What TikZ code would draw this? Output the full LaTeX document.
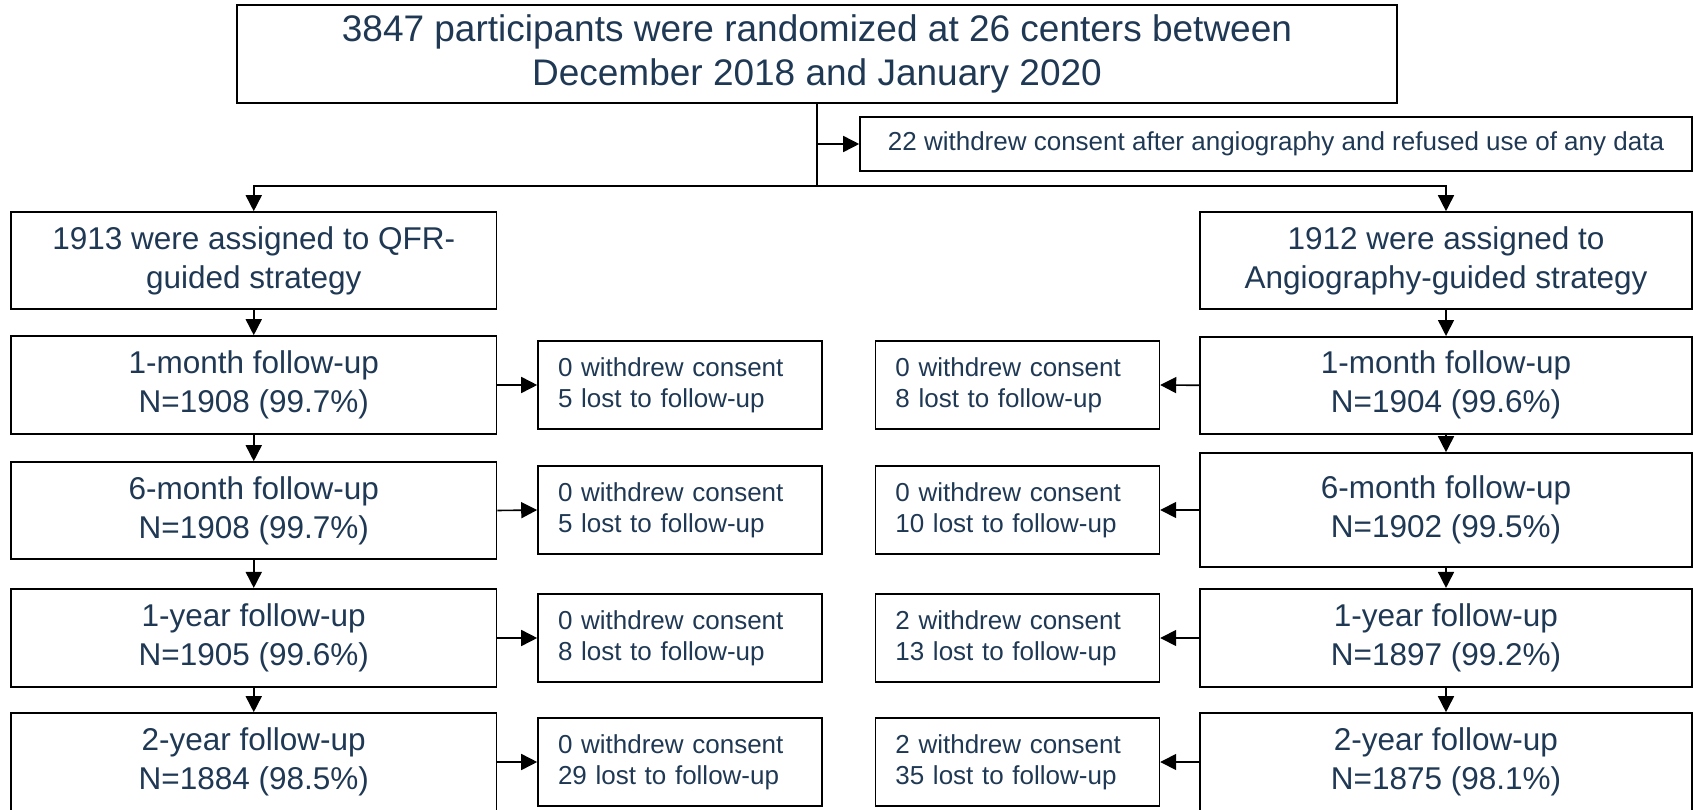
\documentclass[tikz,border=0pt]{standalone}
\usepackage{fontspec}
\setmainfont{Liberation Sans}
\usetikzlibrary{arrows.meta}
\definecolor{navy}{HTML}{1F3854}
\begin{document}
\begin{tikzpicture}[x=1pt,y=-1pt,
  box/.style={draw=black, line width=1.6pt, inner sep=0pt, text=navy, align=center},
  bigtxt/.style={font=\fontsize{37}{43.5}\selectfont},
  midtxt/.style={font=\fontsize{31.5}{39}\selectfont},
  smalltxt/.style={font=\fontsize{26}{31}\selectfont},
  leftcol/.style={box, midtxt, minimum width=485.5pt},
  rightcol/.style={box, midtxt, minimum width=492pt},
  sidebox/.style={box, smalltxt, minimum width=284pt, minimum height=88pt, align=left},
  arr/.style={line width=1.6pt, -{Triangle[length=16pt,width=16pt]}},
  ln/.style={line width=1.6pt}
]
\useasboundingbox (0,0) rectangle (1694,810);
\clip (0,0) rectangle (1694,810);

\node[box, bigtxt, minimum width=1160pt, minimum height=98pt] (top) at (817,54)
  {3847 participants were randomized at 26 centers between\\December 2018 and January 2020};
\node[box, smalltxt, minimum width=832pt, minimum height=54pt] (W) at (1276,144)
  {22 withdrew consent after angiography and refused use of any data};

\node[leftcol, minimum height=97pt] (A) at (253.75,260.5) {1913 were assigned to QFR-\\guided strategy};
\node[rightcol, minimum height=97pt] (B) at (1446,260.5) {1912 were assigned to\\Angiography-guided strategy};

\node[leftcol, minimum height=98pt] (L1) at (253.75,385) {1-month follow-up\\N=1908 (99.7\%)};
\node[leftcol, minimum height=97pt] (L2) at (253.75,510.5) {6-month follow-up\\N=1908 (99.7\%)};
\node[leftcol, minimum height=98.5pt] (L3) at (253.75,638) {1-year follow-up\\N=1905 (99.6\%)};
\node[leftcol, minimum height=98pt] (L4) at (253.75,762) {2-year follow-up\\N=1884 (98.5\%)};

\node[rightcol, minimum height=97pt] (R1) at (1446,385.3) {1-month follow-up\\N=1904 (99.6\%)};
\node[rightcol, minimum height=114pt] (R2) at (1446,510) {6-month follow-up\\N=1902 (99.5\%)};
\node[rightcol, minimum height=98.5pt] (R3) at (1446,638) {1-year follow-up\\N=1897 (99.2\%)};
\node[rightcol, minimum height=98pt] (R4) at (1446,762) {2-year follow-up\\N=1875 (98.1\%)};

\node[sidebox, text width=244pt] (S1) at (680,385) {0 withdrew consent\\5 lost to follow-up};
\node[sidebox, text width=244pt] (S2) at (680,510) {0 withdrew consent\\5 lost to follow-up};
\node[sidebox, text width=244pt] (S3) at (680,638) {0 withdrew consent\\8 lost to follow-up};
\node[sidebox, text width=244pt] (S4) at (680,762) {0 withdrew consent\\29 lost to follow-up};

\node[sidebox, text width=244pt] (T1) at (1017.4,385) {0 withdrew consent\\8 lost to follow-up};
\node[sidebox, text width=244pt] (T2) at (1017.4,510) {0 withdrew consent\\10 lost to follow-up};
\node[sidebox, text width=244pt] (T3) at (1017.4,638) {2 withdrew consent\\13 lost to follow-up};
\node[sidebox, text width=244pt] (T4) at (1017.4,762) {2 withdrew consent\\35 lost to follow-up};

\coordinate (j) at (817,186);
\draw[ln] (top.south) -- (j);
\draw[arr] (top.south |- W.west) -- (W.west);
\draw[arr] (j) -| (A.north);
\draw[arr] (j) -| (B.north);

\draw[arr] (A.south) -- (L1.north);
\draw[arr] (L1.south) -- (L2.north);
\draw[arr] (L2.south) -- (L3.north);
\draw[arr] (L3.south) -- (L4.north);

\draw[arr] (B.south) -- (R1.north);
\draw[arr] (R1.south) -- (R2.north);
\draw[arr] (R2.south) -- (R3.north);
\draw[arr] (R3.south) -- (R4.north);

\draw[arr] (L1.east) -- (S1.west);
\draw[arr] (L2.east) -- (S2.west);
\draw[arr] (L3.east) -- (S3.west);
\draw[arr] (L4.east) -- (S4.west);

\draw[arr] (R1.west) -- (T1.east);
\draw[arr] (R2.west) -- (T2.east);
\draw[arr] (R3.west) -- (T3.east);
\draw[arr] (R4.west) -- (T4.east);
\end{tikzpicture}
\end{document}
